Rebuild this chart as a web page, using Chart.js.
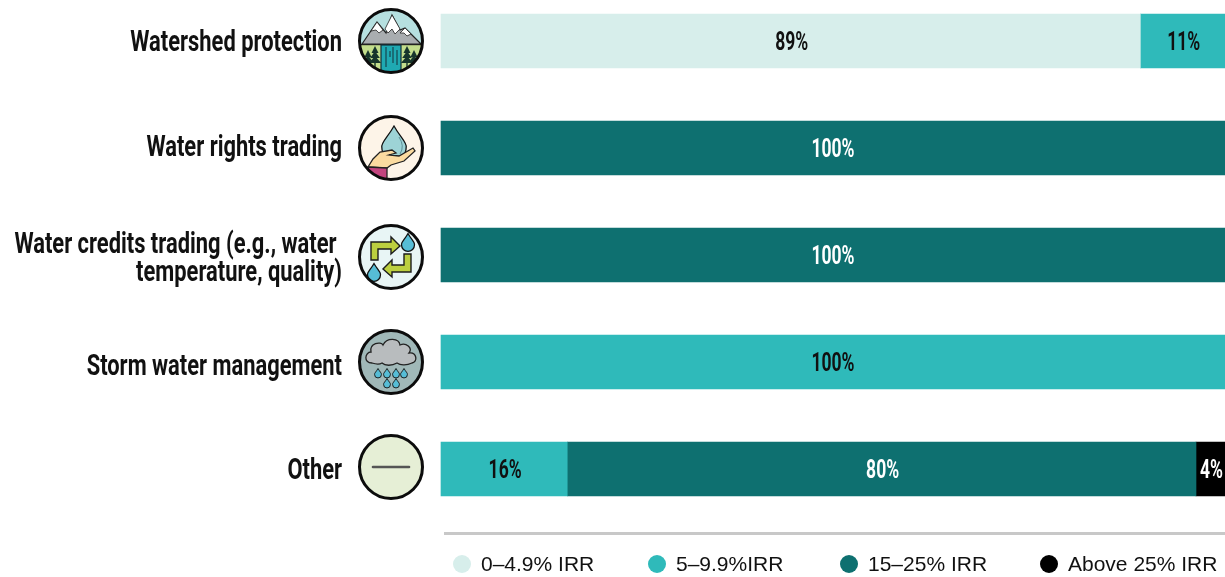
<!DOCTYPE html>
<html>
<head>
<meta charset="utf-8">
<title>IRR by water project type</title>
<script src="https://cdn.jsdelivr.net/npm/chart.js@4"></script>
<style>
  html, body { margin: 0; padding: 0; background: #fff; overflow: hidden; }
  #wrap { position: relative; width: 1225px; height: 577px; }
  #rule { position: absolute; left: 444px; top: 532px; width: 781px; height: 3px; background: #c8c8c8; }
  .key { position: absolute; top: 552px; height: 24px; font: 21px "Liberation Sans", Arial, sans-serif; line-height: 24px; color: #111; white-space: nowrap; }
  .key i { position: absolute; left: -28px; top: 3px; width: 18px; height: 18px; border-radius: 50%; }
</style>
</head>
<body>
<div id="wrap">
  <canvas id="irrChart" width="1225" height="577"></canvas>
  <div id="rule"></div>
  <div id="legend"></div>
</div>
<script>
const categories = [
  ['Watershed protection'],
  ['Water rights trading'],
  ['Water credits trading (e.g., water ', 'temperature, quality)'],
  ['Storm water management'],
  ['Other']
];
const seriesNames = ['0–4.9% IRR', '5–9.9%IRR', '15–25% IRR', 'Above 25% IRR'];
const low = [89.2, null, null, null, null];
const mid = [10.8, null, null, 100, 16.1];
const high = [null, 100, 100, null, 80.2];
const top25 = [null, null, null, null, 3.7];

const colors = ['#d7eeeb', '#2fbaba', '#0e7070', '#000000'];
const valueColors = ['#111', '#111', '#fff', '#fff'];
const legendLeft = [481, 676, 868, 1068];

// squeezed bold text, the picture uses a condensed DIN
function squeezed(c, text, x, y, size, align, color, sx) {
  c.save();
  c.font = 'bold ' + size + 'px Roboto, sans-serif';
  c.textBaseline = 'middle';
  c.textAlign = align;
  c.fillStyle = color;
  c.translate(x, y);
  c.scale(sx, 1);
  c.fillText(text, 0, 0);
  c.restore();
}

function poly(c, pts, fill, stroke, lw) {
  c.beginPath();
  pts.forEach((p, i) => (i ? c.lineTo(p[0], p[1]) : c.moveTo(p[0], p[1])));
  c.closePath();
  if (fill) { c.fillStyle = fill; c.fill(); }
  if (stroke) { c.strokeStyle = stroke; c.lineWidth = lw || 1; c.stroke(); }
}

function drop(c, x, y, h, fill, lw) {
  const w = h * 0.38;
  c.beginPath();
  c.moveTo(x, y - h / 2);
  c.bezierCurveTo(x + w * 0.5, y - h * 0.15, x + w * 1.1, y + h * 0.02, x + w, y + h * 0.17);
  c.arc(x, y + h * 0.17, w, 0, Math.PI);
  c.bezierCurveTo(x - w * 1.1, y + h * 0.02, x - w * 0.5, y - h * 0.15, x, y - h / 2);
  c.closePath();
  c.fillStyle = fill;
  c.fill();
  c.strokeStyle = '#111';
  c.lineWidth = lw || 1;
  c.stroke();
}

function tree(c, x, y) {
  for (let i = 0; i < 3; i++) {
    poly(c, [[x, y - 9 + i * 5], [x + 3.5 + i * 1.3, y - 2 + i * 5], [x - 3.5 - i * 1.3, y - 2 + i * 5]], '#17352c');
  }
  c.fillStyle = '#17352c';
  c.fillRect(x - 0.7, y + 8, 1.4, 4);
}

const icons = [
  c => { // mountains and waterfall
    c.fillStyle = '#b6e0e0'; c.fillRect(-33, -33, 66, 37);
    c.fillStyle = '#c3dd8c'; c.fillRect(-33, 4, 66, 30);
    poly(c, [[-29, 3], [-14, -19], [-5, -8], [1, -26], [9, -11], [14, -13], [30, 3]], '#a9adb0', '#222', 1.2);
    poly(c, [[-20, -10], [-14, -19], [-8, -11], [-12, -8], [-15, -11]], '#fff', '#222', 0.8);
    poly(c, [[-6, -12], [1, -26], [9, -12], [4, -7], [1, -12], [-3, -8]], '#fff', '#222', 0.8);
    poly(c, [[9, -8], [14, -13], [20, -7], [16, -5], [13, -8]], '#fff', '#222', 0.8);
    c.fillStyle = '#222'; c.fillRect(-33, 3, 66, 1.2);
    c.fillStyle = '#1fa9b2'; c.fillRect(-10, 4, 20, 30);
    c.strokeStyle = '#14303a'; c.lineWidth = 1.2; c.strokeRect(-10, 4, 20, 30);
    c.beginPath();
    [[-5, 6, 26], [-1, 10, 16], [2, 6, 22], [6, 9, 24]].forEach(s => { c.moveTo(s[0], s[1]); c.lineTo(s[0], s[2]); });
    c.lineWidth = 1; c.stroke();
    tree(c, -16, 14); tree(c, -23, 18); tree(c, 16, 14); tree(c, 23, 18);
  },
  c => { // hand holding a drop
    c.fillStyle = '#fdf4e8'; c.fillRect(-33, -33, 66, 66);
    drop(c, 3, -6, 32, '#9dd3d6', 1.3);
    c.strokeStyle = '#5c8f96'; c.lineWidth = 1;
    c.beginPath(); c.moveTo(8, -11); c.quadraticCurveTo(14, -2, 9, 6); c.stroke();
    poly(c, [[-23, 19], [-18, 11], [-11, 4], [1, 2], [5, 5], [-2, 7], [8, 8], [22, 0], [24, 3], [13, 13], [0, 17], [-4, 20]], '#fbdba0', '#222', 1.3);
    poly(c, [[-23, 19], [-4, 20], [-4, 33], [-23, 33]], '#c2447e', '#222', 1.3);
  },
  c => { // credit exchange arrows
    c.fillStyle = '#e8f5f5'; c.fillRect(-33, -33, 66, 66);
    poly(c, [[-20, 3], [-20, -15], [0, -15], [0, -20], [9, -11], [0, -3], [0, -8], [-13, -8], [-13, 3]], '#bccf3f', '#1c1c1c', 1.4);
    poly(c, [[20, -3], [20, 15], [1, 15], [1, 20], [-8, 12], [1, 3], [1, 8], [13, 8], [13, -3]], '#bccf3f', '#1c1c1c', 1.4);
    drop(c, 17, -15, 17, '#56bdd6', 1.3);
    drop(c, -17, 15, 17, '#56bdd6', 1.3);
  },
  c => { // storm cloud
    c.fillStyle = '#a0b8b8'; c.fillRect(-33, -33, 66, 66);
    c.beginPath();
    c.moveTo(-19, 1);
    c.bezierCurveTo(-28, 1, -26, -10, -20, -10);
    c.bezierCurveTo(-22, -19, -10, -21, -8, -17);
    c.bezierCurveTo(-4, -25, 8, -24, 9, -17);
    c.bezierCurveTo(15, -20, 22, -14, 18, -9);
    c.bezierCurveTo(26, -10, 27, 0, 21, 1);
    c.bezierCurveTo(15, 4, 9, 3, 6, 1);
    c.bezierCurveTo(1, 4, -6, 4, -9, 1);
    c.bezierCurveTo(-12, 3, -16, 2, -19, 1);
    c.closePath();
    c.fillStyle = '#b8bcbe'; c.fill();
    c.strokeStyle = '#222'; c.lineWidth = 1.3; c.stroke();
    [-13, -4, 5, 13].forEach(x => drop(c, x, 11, 9, '#56bdd6', 0.9));
    [-4, 5].forEach(x => drop(c, x, 21, 9, '#56bdd6', 0.9));
  },
  c => { // other
    c.fillStyle = '#e6efd6'; c.fillRect(-33, -33, 66, 66);
    c.strokeStyle = '#555'; c.lineWidth = 2.6; c.lineCap = 'round';
    c.beginPath(); c.moveTo(-18, 0); c.lineTo(18, 0); c.stroke();
  }
];
const iconShift = [0, 0, 2, 0, -2];
const labelShift = [3, 1, 5, 6, 3];

const rowLabels = {
  id: 'rowLabels',
  afterDatasetsDraw(chart) {
    const c = chart.ctx;
    const y = chart.scales.y;
    categories.forEach((lines, i) => {
      const rowY = y.getPixelForValue(i);
      lines.forEach((line, k) => {
        const off = (k - (lines.length - 1) / 2) * 28;
        squeezed(c, line, 342, rowY + labelShift[i] + off, 29, 'right', '#111', 0.755);
      });
      c.save();
      c.translate(391, rowY + iconShift[i]);
      c.beginPath();
      c.arc(0, 0, 32, 0, Math.PI * 2);
      c.save();
      c.clip();
      icons[i](c);
      c.restore();
      c.beginPath();
      c.arc(0, 0, 31.5, 0, Math.PI * 2);
      c.strokeStyle = '#0c0c0c';
      c.lineWidth = 3;
      c.stroke();
      c.restore();
    });
  }
};

const valueLabels = {
  id: 'valueLabels',
  afterDatasetsDraw(chart) {
    chart.data.datasets.forEach((ds, d) => {
      chart.getDatasetMeta(d).data.forEach((bar, i) => {
        if (!ds.data[i]) return;
        const x = (bar.x + bar.base) / 2 + (ds.data[i] < 100 ? 1 : 0);
        squeezed(chart.ctx, Math.round(ds.data[i]) + '%', x, bar.y + 2.5, 25, 'center', valueColors[d], 0.7);
      });
    });
  }
};

document.addEventListener('DOMContentLoaded', () => {
  const legend = document.getElementById('legend');
  seriesNames.forEach((name, i) => {
    const el = document.createElement('div');
    el.className = 'key';
    el.style.left = legendLeft[i] + 'px';
    el.innerHTML = '<i style="background:' + colors[i] + '"></i>' + name;
    legend.appendChild(el);
  });

  new Chart(document.getElementById('irrChart').getContext('2d'), {
    type: 'bar',
    data: {
      labels: categories,
      datasets: [low, mid, high, top25].map((values, i) => ({
        label: seriesNames[i],
        data: values,
        backgroundColor: colors[i],
        borderWidth: 0,
        barThickness: 54,
        clip: false
      }))
    },
    options: {
      indexAxis: 'y',
      responsive: false,
      animation: false,
      layout: { padding: { left: 441, right: 0, top: 41, bottom: 108 } },
      plugins: { legend: { display: false }, title: { display: false }, tooltip: { enabled: false } },
      scales: {
        x: { stacked: true, min: 0, max: 100, display: false },
        y: { stacked: true, offset: false, display: false }
      }
    },
    plugins: [rowLabels, valueLabels]
  });
});
</script>
</body>
</html>
